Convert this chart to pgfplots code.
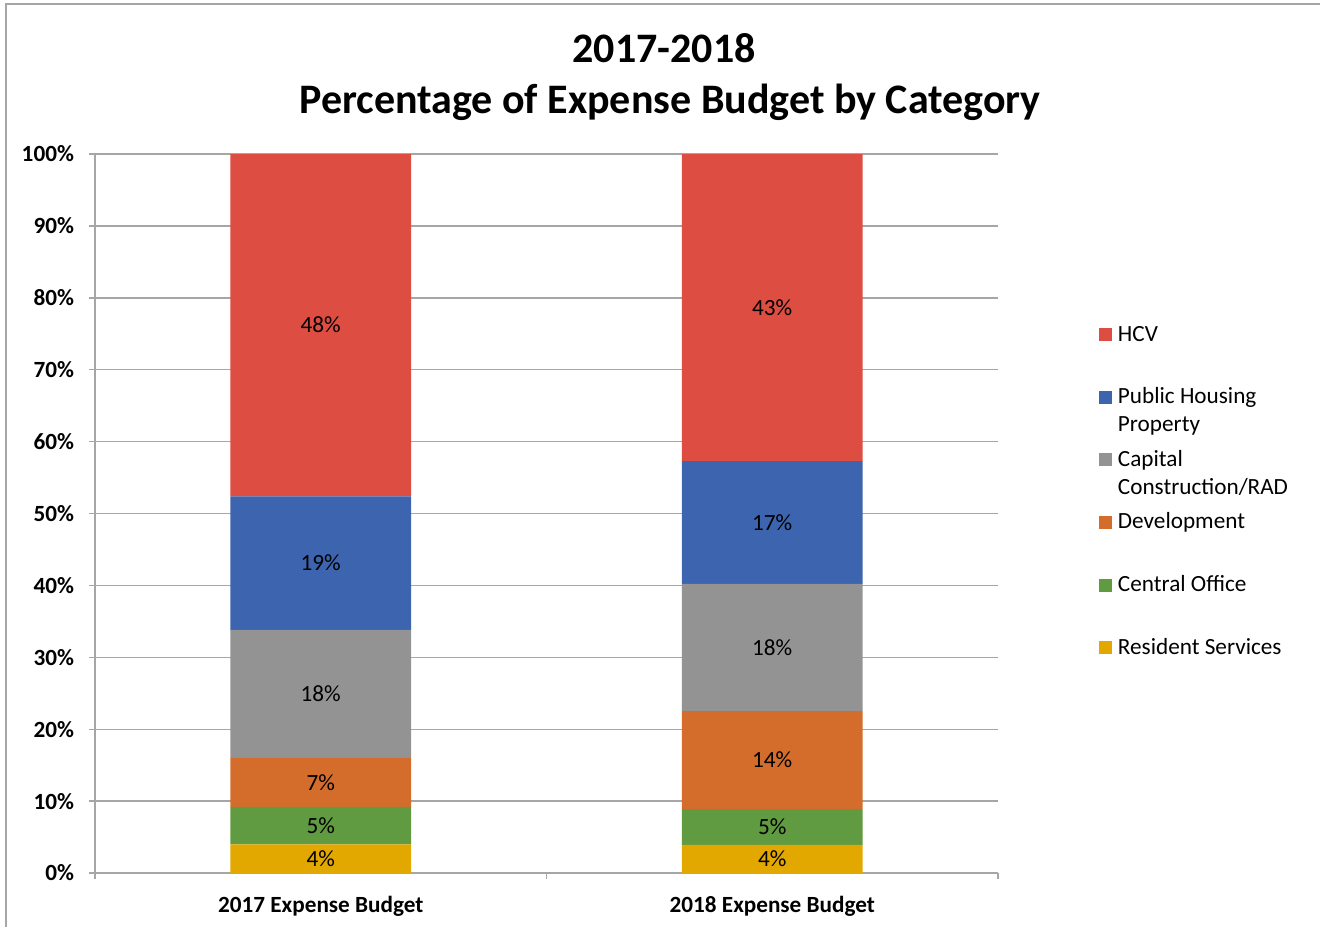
\documentclass[border=0pt]{standalone}
\usepackage{fontspec}
\setmainfont{Carlito}
\usepackage{pgfplots}
\pgfplotsset{compat=1.18}
\definecolor{cHCV}{HTML}{DD4D41}
\definecolor{cPH}{HTML}{3D64AE}
\definecolor{cCap}{HTML}{939393}
\definecolor{cDev}{HTML}{D46D2B}
\definecolor{cCO}{HTML}{609A41}
\definecolor{cRS}{HTML}{E2A800}
\definecolor{gridgray}{HTML}{A6A6A6}
\newcommand{\lbl}{\fontsize{11.6}{14}\selectfont}
\newcommand{\legtxt}[2]{\parbox[t]{110pt}{\strut #1\\\strut #2}}
\pgfplotsset{sqlegend/.style={legend image code/.code={\fill[##1] (0pt,0pt) rectangle (6.5pt,6.5pt);}}}
\begin{document}
\begin{tikzpicture}
\useasboundingbox (0pt,0pt) rectangle (660pt,-463.5pt);
\draw[color=gridgray, line width=0.8pt] (3pt,-463.5pt) -- (3pt,-2pt) -- (660pt,-2pt);
\node[anchor=base, font=\fontsize{21}{25}\selectfont\bfseries] at (332pt,-31pt) {2017-2018};
\node[anchor=base, font=\fontsize{21}{25}\selectfont\bfseries] at (335pt,-56.5pt) {Percentage of Expense Budget by Category};
\begin{axis}[
    at={(47.5pt,-436.5pt)}, anchor=south west,
    scale only axis, width=451.5pt, height=359.5pt,
    ybar stacked, bar width=0.4,
    xmin=-0.5, xmax=1.5, ymin=0, ymax=100,
    enlargelimits=false,
    axis x line=bottom, axis y line=left,
    axis line style={-, draw=gridgray, line width=0.7pt},
    ymajorgrids, grid style={gridgray, line width=0.7pt},
    tick align=outside, major tick length=3pt,
    tick style={gridgray, line width=0.7pt},
    xtick={-0.5,0.5,1.5}, xticklabels={},
    extra x ticks={0,1},
    extra x tick labels={2017 Expense Budget,2018 Expense Budget},
    extra x tick style={major tick length=0pt},
    x tick label style={font=\lbl\bfseries, text=black, yshift=-8pt},
    ytick={0,10,...,100},
    yticklabel={\pgfmathprintnumber[assume math mode=true]{\tick}\%},
    y tick label style={font=\lbl\bfseries, text=black, xshift=-4pt},
    visualization depends on=rawy\as\rawy,
    nodes near coords={\pgfmathprintnumber[fixed,precision=0,assume math mode=true]{\rawy}\%},
    every node near coord/.append style={anchor=center, font=\lbl, text=black},
    clip=false,
    reverse legend,
    legend style={at={(1.1118,0.767)}, anchor=north west, draw=none, fill=none,
        inner sep=0pt, outer sep=0pt, row sep=3.3pt, column sep=3pt,
        font=\lbl, cells={anchor=base west},
        nodes={inner sep=0pt, text height=9.8pt, text depth=18.2pt}},
]
\addplot[fill=cRS, draw=none, sqlegend] coordinates {(0,4.0) (1,3.9)};
\addlegendentry{\legtxt{Resident Services}{}}
\addplot[fill=cCO, draw=none, sqlegend] coordinates {(0,5.2) (1,5.0)};
\addlegendentry{\legtxt{Central Office}{}}
\addplot[fill=cDev, draw=none, sqlegend] coordinates {(0,6.8) (1,13.6)};
\addlegendentry{\legtxt{Development}{}}
\addplot[fill=cCap, draw=none, sqlegend] coordinates {(0,17.8) (1,17.7)};
\addlegendentry{\legtxt{Capital}{Construction/RAD}}
\addplot[fill=cPH, draw=none, sqlegend] coordinates {(0,18.6) (1,17.1)};
\addlegendentry{\legtxt{Public Housing}{Property}}
\addplot[fill=cHCV, draw=none, sqlegend] coordinates {(0,47.6) (1,42.7)};
\addlegendentry{\legtxt{HCV}{}}
\end{axis}
\end{tikzpicture}
\end{document}
